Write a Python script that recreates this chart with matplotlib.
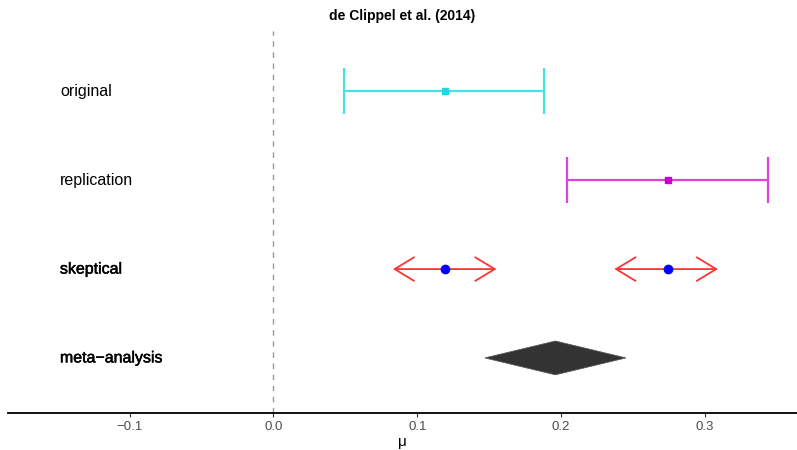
import matplotlib
matplotlib.use("Agg")
import matplotlib.pyplot as plt
import matplotlib.patheffects as pe
from matplotlib.patches import FancyArrowPatch, Polygon

plt.rcParams['font.family'] = ['Liberation Sans', 'DejaVu Sans']

# Row labels (top to bottom) and their y positions
categories = ["original", "replication", "skeptical", "meta\u2212analysis"]
levels = [4, 3, 2, 1]

# Original and replication estimates with 95% CIs
orig_est, orig_lo, orig_hi = 0.119, 0.049, 0.188
rep_est, rep_lo, rep_hi = 0.274, 0.204, 0.344

# Skeptical intervals (two disjoint pieces) with their centres
skep_centres = [0.119, 0.274]
skep_lo = [0.083, 0.237]
skep_hi = [0.155, 0.309]

# Meta-analysis estimate and CI
meta_est, meta_lo, meta_hi = 0.196, 0.147, 0.245

xticks = [-0.1, 0.0, 0.1, 0.2, 0.3]
xticklabels = ["\u22120.1", "0.0", "0.1", "0.2", "0.3"]

fig = plt.figure(figsize=(7.97, 4.5), dpi=100)
ax = fig.add_axes([8 / 797, 37 / 450, 789 / 797, 382 / 450])
ax.set_xlim(-0.1846, 0.364)
ax.set_ylim(0.38, 4.68)

# Reference line at zero
ax.axvline(0, color="#999999", linestyle=(0, (4, 4)), linewidth=1.0, zorder=1)

# Original and replication intervals
for est, lo, hi, lev, lc, mc in [
    (orig_est, orig_lo, orig_hi, levels[0], "#45E3E8", "#22D8E0"),
    (rep_est, rep_lo, rep_hi, levels[1], "#DC45DC", "#CC00CC"),
]:
    ax.errorbar(est, lev, xerr=[[est - lo], [hi - est]], fmt="none",
                ecolor=lc, elinewidth=1.6, capsize=16.5, capthick=1.6, zorder=2)
    ax.plot(est, lev, marker="s", markersize=5, color=mc, zorder=3)

# Skeptical intervals as double-headed arrows
for c, lo, hi in zip(skep_centres, skep_lo, skep_hi):
    arr = FancyArrowPatch((lo, levels[2]), (hi, levels[2]),
                          arrowstyle="<->,head_length=14,head_width=8.5",
                          mutation_scale=1, color="#FF3333", linewidth=1.3,
                          shrinkA=0, shrinkB=0, zorder=2)
    ax.add_patch(arr)
    ax.plot(c, levels[2], marker="o", markersize=6, color="#0000FF", zorder=3)

# Meta-analysis diamond
h = 0.19
diamond = Polygon([(meta_lo, levels[3]), (meta_est, levels[3] + h),
                   (meta_hi, levels[3]), (meta_est, levels[3] - h)],
                  closed=True, facecolor="#333333", edgecolor="#555555",
                  linewidth=0.6, zorder=2)
ax.add_patch(diamond)

# Row labels
for name, lev in zip(categories, levels):
    t = ax.text(-0.1485, lev, name, ha="left", va="center", fontsize=11.5, color="black")
    if lev <= 2:
        t.set_path_effects([pe.withStroke(linewidth=0.35, foreground="black")])

# Axes styling
for s in ["left", "right", "top"]:
    ax.spines[s].set_visible(False)
ax.spines["bottom"].set_linewidth(1.3)
ax.spines["bottom"].set_color("black")
ax.set_yticks([])
ax.set_xticks(xticks)
ax.set_xticklabels(xticklabels)
ax.tick_params(axis="x", length=3, width=0.8, color="#333333",
               labelsize=9.5, labelcolor="#4D4D4D", pad=3)
ax.set_xlabel("\u03bc", fontsize=11, labelpad=1)
ax.set_title("de Clippel et al. (2014)", fontsize=10, fontweight="bold", pad=8)

fig.savefig("out.png", dpi=100)
